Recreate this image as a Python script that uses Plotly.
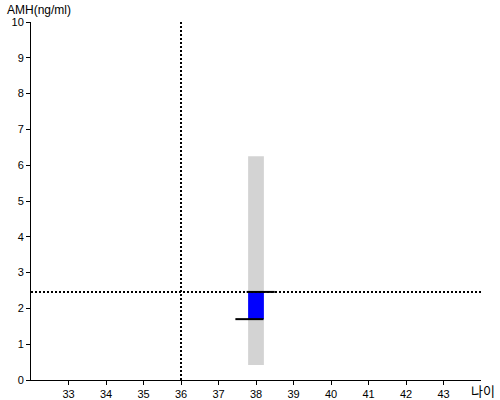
import plotly.graph_objects as go

# data
age = [38]
range_low = [0.42]
range_high = [6.25]
amh_low = [1.70]
amh_high = [2.46]
ref_age = 36
ref_amh = 2.46
upper_seg_x = [37.75, 38.5]
lower_seg_x = [37.45, 38.2]
x_ticks = list(range(33, 44))
y_ticks = list(range(0, 11))

fig = go.Figure()
fig.add_trace(go.Bar(x=age, y=[range_high[0] - range_low[0]], base=range_low,
                     width=0.42, marker=dict(color="#d3d3d3", line=dict(width=0))))
fig.add_trace(go.Bar(x=age, y=[amh_high[0] - amh_low[0]], base=amh_low,
                     width=0.42, marker=dict(color="#0000ff", line=dict(width=0))))
fig.add_trace(go.Scatter(x=[32, 44], y=[ref_amh, ref_amh], mode="lines",
                         line=dict(color="black", width=2, dash="2px,2px")))
fig.add_trace(go.Scatter(x=[ref_age, ref_age], y=[0, 10], mode="lines",
                         line=dict(color="black", width=2, dash="2px,2px")))
fig.add_trace(go.Scatter(x=upper_seg_x, y=[amh_high[0]] * 2, mode="lines",
                         line=dict(color="black", width=2)))
fig.add_trace(go.Scatter(x=lower_seg_x, y=[amh_low[0]] * 2, mode="lines",
                         line=dict(color="black", width=2)))

PW, PH = 450, 358
fig.update_layout(
    width=500, height=400,
    margin=dict(l=31, r=19, t=22, b=20, autoexpand=False),
    paper_bgcolor="white", plot_bgcolor="white",
    showlegend=False, barmode="overlay",
    font=dict(family="Liberation Sans, Arial", size=11, color="black"),
    xaxis=dict(range=[32, 44], tickvals=x_ticks, showgrid=False, zeroline=False,
               showline=True, linecolor="black", linewidth=1, automargin=False,
               ticks="outside", ticklen=4, tickcolor="black"),
    yaxis=dict(range=[0, 10], tickvals=y_ticks, showgrid=False, zeroline=False,
               showline=True, linecolor="black", linewidth=1, automargin=False,
               ticks="outside", ticklen=4, tickcolor="black"),
    annotations=[
        dict(text="AMH(ng/ml)", x=(5 - 31) / PW, y=1 + (22 - 10) / PH,
             xref="paper", yref="paper", xanchor="left", yanchor="middle",
             showarrow=False, font=dict(size=12)),
        dict(text="나이", x=(483 - 31) / PW, y=-(390 - 380) / PH,
             xref="paper", yref="paper", xanchor="center", yanchor="middle",
             showarrow=False, font=dict(size=13, family="Noto Sans CJK KR")),
    ],
)
fig.write_html("out.html", config={"displayModeBar": False},
               post_script="document.body.style.margin='0';document.body.style.overflow='hidden';")
